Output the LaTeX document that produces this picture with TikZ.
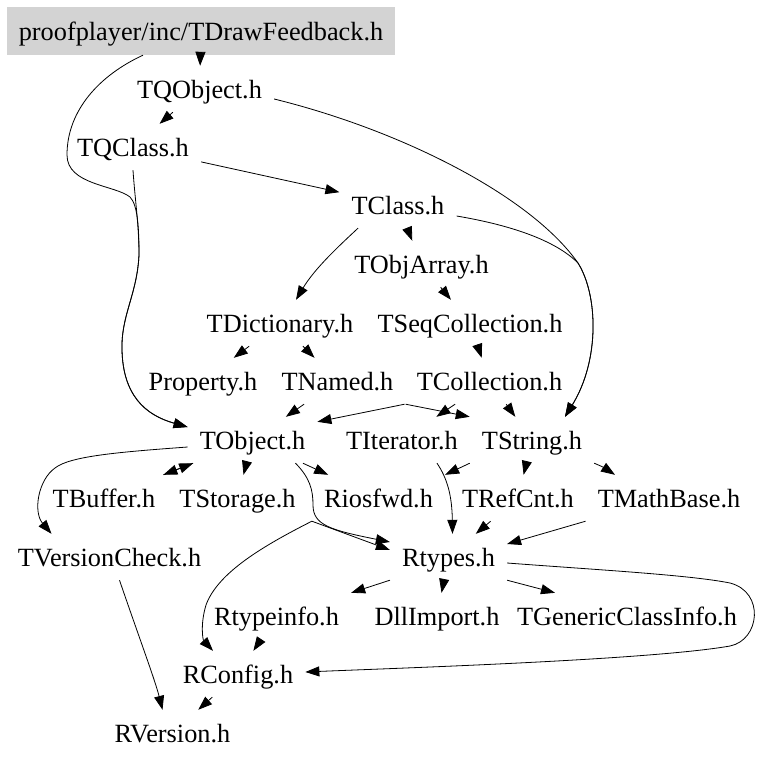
\documentclass[tikz,border=0pt]{standalone}
\usepackage{fontspec}
\setmainfont{Liberation Serif}
\usetikzlibrary{arrows.meta}
\definecolor{feedgray}{RGB}{211,211,211}
\begin{document}
\begin{tikzpicture}[x=1pt,y=-1pt,
  fn/.style={inner xsep=12pt, inner ysep=0pt, minimum height=46pt, text height=20pt, text depth=2pt, anchor=base, font=\fontsize{26.3}{30}\selectfont},
  feedbox/.style={fill=feedgray, inner sep=0pt, minimum width=388pt, minimum height=48pt, text height=20pt, text depth=2pt, font=\fontsize{26.3}{30}\selectfont},
  arr/.style={-{Triangle[length=14pt,width=10pt]}, line width=0.8pt},
]
\useasboundingbox (0,0) rectangle (763,763);

\node[feedbox] (feed) at (201,31) {proofplayer/inc/TDrawFeedback.h};
\node[fn] (tqobject) at (199.5,98) {TQObject.h};
\node[fn] (tqclass) at (133,156) {TQClass.h};
\node[fn] (tclass) at (398,214) {TClass.h};
\node[fn] (tobjarray) at (421.5,273) {TObjArray.h};
\node[fn] (tdict) at (280,332) {TDictionary.h};
\node[fn] (tseq) at (470,332) {TSeqCollection.h};
\node[fn] (property) at (203,390) {Property.h};
\node[fn] (tnamed) at (337.5,390) {TNamed.h};
\node[fn] (tcoll) at (489.5,390) {TCollection.h};
\node[fn] (tobject) at (252.5,449) {TObject.h};
\node[fn] (titer) at (402,449) {TIterator.h};
\node[fn] (tstring) at (532,449) {TString.h};
\node[fn] (tbuffer) at (104,507) {TBuffer.h};
\node[fn] (tstorage) at (237.5,507) {TStorage.h};
\node[fn] (riosfwd) at (378.5,507) {Riosfwd.h};
\node[fn] (trefcnt) at (518,507) {TRefCnt.h};
\node[fn] (tmath) at (669,507) {TMathBase.h};
\node[fn] (tversion) at (109.5,566) {TVersionCheck.h};
\node[fn] (rtypes) at (448.5,566) {Rtypes.h};
\node[fn] (rtypeinfo) at (276.5,625) {Rtypeinfo.h};
\node[fn] (dll) at (437,625) {DllImport.h};
\node[fn] (tgeneric) at (627,625) {TGenericClassInfo.h};
\node[fn] (rconfig) at (238,683) {RConfig.h};
\node[fn] (rversion) at (172.5,742) {RVersion.h};

% edges
\draw[arr] (feed) -- (tqobject);
\draw[arr] ([xshift=-58pt]feed.south) .. controls (100,75) and (67,110) .. (67,155)
  .. controls (67,185) and (115,185) .. (130,197)
  .. controls (138,205) and (139,230) .. (139,255)
  .. controls (137,295) and (121,315) .. (122,350)
  .. controls (123,395) and (145,415) .. ([yshift=13pt]tobject.west);
\draw[arr] (tqclass.south) .. controls (135,200) and (139,225) .. (139,255)
  .. controls (137,295) and (121,315) .. (122,350)
  .. controls (123,395) and (145,415) .. ([yshift=13pt]tobject.west);
\draw[arr] (tqobject) -- (tqclass);
\draw[arr] ([yshift=-10pt]tqobject.east) .. controls (400,130) and (530,195) .. (578,263)
  .. controls (598,295) and (600,360) .. ([xshift=33pt]tstring.north);
\draw[arr] ([yshift=-11pt]tclass.east) .. controls (510,225) and (555,240) .. (578,263)
  .. controls (598,295) and (600,360) .. ([xshift=33pt]tstring.north);
\draw[arr] (tqclass) -- (tclass);
\draw[arr] ([xshift=-40pt]tclass.south) .. controls (340,245) and (315,268) .. ([xshift=16pt]tdict.north);
\draw[arr] (tclass) -- (tobjarray);
\draw[arr] (tobjarray) -- (tseq);
\draw[arr] (tdict) -- (property);
\draw[arr] (tdict) -- (tnamed);
\draw[arr] (tseq) -- (tcoll);
\draw[arr] (tnamed) -- (tobject);
\draw[arr] (tcoll.south west) -- ([yshift=-5pt]tobject.north east);
\draw[arr] (tnamed.south east) -- (tstring.north west);
\draw[arr] (tcoll) -- (titer);
\draw[arr] (tcoll) -- (tstring);
\draw[arr] (tobject) -- (tbuffer);
\draw[arr] (tbuffer) -- (tobject);
\draw[arr] (tobject) -- (tstorage);
\draw[arr] (tobject) -- (riosfwd);
\draw[arr] ([xshift=43pt]tobject.south) .. controls (310,478) and (313,490) .. (313,505)
  .. controls (313,525) and (330,530) .. ([yshift=15pt]rtypes.west);
\draw[arr] (riosfwd.south west) -- ([yshift=7pt]rtypes.west);
\draw[arr] (riosfwd.south west) .. controls (265,545) and (218,572) .. (206,605)
  .. controls (200,625) and (203,640) .. ([xshift=-25pt]rconfig.north);
\draw[arr] ([xshift=35pt]titer.south) .. controls (447,478) and (452,495) .. ([xshift=4pt]rtypes.north);
\draw[arr] (tstring.south west) -- (riosfwd.north east);
\draw[arr] (tstring) -- (trefcnt);
\draw[arr] (tstring.south east) .. controls (603,467) .. ([xshift=-54pt]tmath.north);
\draw[arr] (trefcnt) -- (rtypes);
\draw[arr] (tmath.south west) -- ([yshift=13pt]rtypes.east);
\draw[arr] (rtypes.south west) -- (rtypeinfo.north east);
\draw[arr] (rtypes) -- (dll);
\draw[arr] (rtypes.south east) -- ([xshift=-72pt]tgeneric.north);
\draw[arr] ([yshift=-6pt]rtypes.east) .. controls (600,570) and (690,575) .. (730,583)
  .. controls (765,592) and (760,640) .. (730,646)
  .. controls (650,660) and (400,668) .. ([yshift=2pt]rconfig.east);
\draw[arr] (rtypeinfo) -- (rconfig);
\draw[arr] (rconfig) -- (rversion);
\draw[arr] ([xshift=10pt]tversion.south) .. controls (140,640) and (155,680) .. ([xshift=-10pt]rversion.north);
\draw[arr] ([yshift=-7pt]tobject.west) .. controls (120,452) and (70,456) .. (55,468)
  .. controls (38,480) and (33,512) .. ([xshift=-58pt]tversion.north);
\end{tikzpicture}
\end{document}
